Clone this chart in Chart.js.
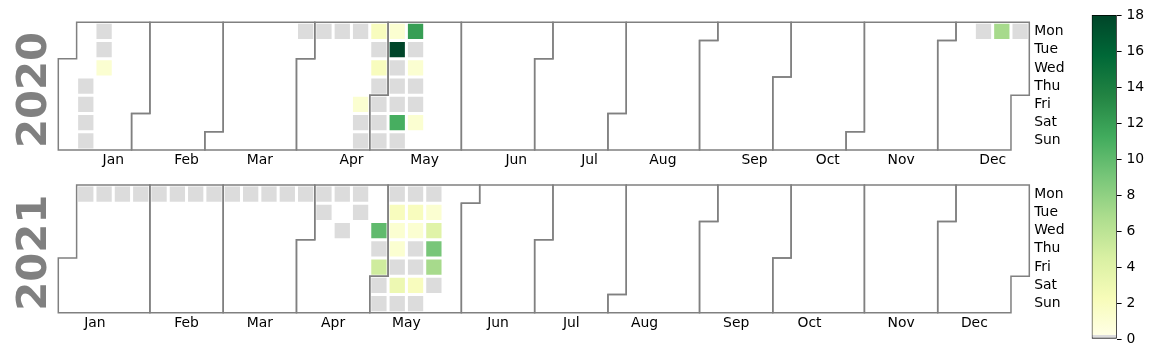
<!DOCTYPE html>
<html>
<head>
<meta charset="utf-8">
<script src="https://cdn.jsdelivr.net/npm/chart.js@4.4.1/dist/chart.umd.min.js"></script>
<style>
  html, body { margin: 0; padding: 0; background: #ffffff; }
  #wrap { position: relative; width: 1153px; height: 357px; overflow: hidden; background: #ffffff; }
  canvas { position: absolute; }
</style>
</head>
<body>
<div id="wrap">
  <canvas id="c2020" width="1085" height="175" style="left:0px;top:0px"></canvas>
  <canvas id="c2021" width="1085" height="175" style="left:0px;top:163px"></canvas>
  <canvas id="cbar" width="68" height="357" style="left:1085px;top:0px"></canvas>
</div>
<script>
// ---------------- data ----------------
const dayLabels = ['Mon', 'Tue', 'Wed', 'Thu', 'Fri', 'Sat', 'Sun'];
const monthLabels = ['Jan', 'Feb', 'Mar', 'Apr', 'May', 'Jun', 'Jul', 'Aug', 'Sep', 'Oct', 'Nov', 'Dec'];
const monthTicks2020 = [3, 7, 11, 16, 20, 25, 29, 33, 38, 42, 46, 51];
const monthTicks2021 = [2, 7, 11, 15, 19, 24, 28, 32, 37, 41, 46, 50];

// 2020 cells: week column, weekday, value
const week2020 = [1, 1, 1, 1,
                  2, 2, 2,
                  13, 14, 15,
                  16, 16, 16, 16,
                  17, 17, 17, 17, 17, 17, 17,
                  18, 18, 18, 18, 18, 18, 18,
                  19, 19, 19, 19, 19, 19,
                  50, 51, 52];
const day2020 = ['Thu', 'Fri', 'Sat', 'Sun',
                 'Mon', 'Tue', 'Wed',
                 'Mon', 'Mon', 'Mon',
                 'Mon', 'Fri', 'Sat', 'Sun',
                 'Mon', 'Tue', 'Wed', 'Thu', 'Fri', 'Sat', 'Sun',
                 'Mon', 'Tue', 'Wed', 'Thu', 'Fri', 'Sat', 'Sun',
                 'Mon', 'Tue', 'Wed', 'Thu', 'Fri', 'Sat',
                 'Mon', 'Mon', 'Mon'];
const value2020 = [0, 0, 0, 0,
                   0, 0, 1,
                   0, 0, 0,
                   0, 1, 0, 0,
                   2, 0, 2, 0, 0, 0, 0,
                   1, 18, 0, 0, 0, 11, 0,
                   12, 0, 1, 0, 0, 1,
                   0, 7, 0];

// 2021 cells: week column, weekday, value
const week2021 = [1, 2, 3, 4, 5, 6, 7, 8, 9, 10, 11, 12, 13, 14, 15, 16,
                  14, 15, 16,
                  17, 17, 17, 17, 17,
                  18, 18, 18, 18, 18, 18, 18,
                  19, 19, 19, 19, 19, 19, 19,
                  20, 20, 20, 20, 20, 20];
const day2021 = ['Mon', 'Mon', 'Mon', 'Mon', 'Mon', 'Mon', 'Mon', 'Mon', 'Mon', 'Mon', 'Mon', 'Mon', 'Mon', 'Mon', 'Mon', 'Mon',
                 'Tue', 'Wed', 'Tue',
                 'Wed', 'Thu', 'Fri', 'Sat', 'Sun',
                 'Mon', 'Tue', 'Wed', 'Thu', 'Fri', 'Sat', 'Sun',
                 'Mon', 'Tue', 'Wed', 'Thu', 'Fri', 'Sat', 'Sun',
                 'Mon', 'Tue', 'Wed', 'Thu', 'Fri', 'Sat'];
const value2021 = [0, 0, 0, 0, 0, 0, 0, 0, 0, 0, 0, 0, 0, 0, 0, 0,
                   0, 0, 0,
                   10, 0, 5, 0, 0,
                   0, 2, 1, 1, 0, 3, 0,
                   0, 2, 1, 0, 0, 2, 0,
                   0, 1, 4, 9, 7, 0];

const colorbarTicks = [0, 2, 4, 6, 8, 10, 12, 14, 16, 18];
const vmin = 0, vmax = 18;

// ---------------- styling helpers ----------------
const ylgn = ['#ffffe5', '#f7fcb9', '#d9f0a3', '#addd8e', '#78c679', '#41ab5d', '#238443', '#006837', '#004529'];
const zeroColor = '#dcdcdc';
const FONT = "'DejaVu Sans', 'Liberation Sans', sans-serif";
Chart.defaults.font.family = FONT;
Chart.defaults.font.size = 13.9;
Chart.defaults.color = '#000000';

function hexToRgb(h) {
  return [parseInt(h.slice(1, 3), 16), parseInt(h.slice(3, 5), 16), parseInt(h.slice(5, 7), 16)];
}
function colorFor(v) {
  if (v <= 0) return zeroColor;
  const t = Math.min(1, (v - vmin) / (vmax - vmin)) * (ylgn.length - 1);
  const i = Math.min(ylgn.length - 2, Math.floor(t));
  const f = t - i;
  const a = hexToRgb(ylgn[i]), b = hexToRgb(ylgn[i + 1]);
  const c = a.map((x, k) => Math.round(x + (b[k] - x) * f));
  return 'rgb(' + c.join(',') + ')';
}

// month outline plugin (calendar boundaries through the chart scales)
const outlinePlugin = {
  id: 'monthOutline',
  afterDatasetsDraw(chart, args, opts) {
    const year = opts.year;
    const { ctx } = chart;
    const xs = chart.scales.x, ys = chart.scales.y;
    const jan1 = Date.UTC(year, 0, 1);
    const w0 = (new Date(jan1).getUTCDay() + 6) % 7;
    const pos = (m, d) => {
      const n = Math.round((Date.UTC(year, m, d) - jan1) / 86400000) + w0;
      return [Math.floor(n / 7), n % 7];
    };
    ctx.save();
    ctx.strokeStyle = opts.color;
    ctx.lineWidth = opts.width;
    ctx.lineJoin = 'miter';
    for (let m = 0; m < 12; m++) {
      const [c0, r0] = pos(m, 1);
      const lastDay = new Date(Date.UTC(year, m + 1, 0)).getUTCDate();
      const [c1, r1] = pos(m, lastDay);
      const pts = [];
      pts.push([r0 > 0 ? c0 + 1 : c0, 0]);
      pts.push([c1 + 1, 0]);
      if (r1 < 6) { pts.push([c1 + 1, r1 + 1]); pts.push([c1, r1 + 1]); pts.push([c1, 7]); }
      else { pts.push([c1 + 1, 7]); }
      pts.push([c0, 7]);
      if (r0 > 0) { pts.push([c0, r0]); pts.push([c0 + 1, r0]); }
      ctx.beginPath();
      pts.forEach(([px, py], i) => {
        const X = xs.getPixelForValue(px), Y = ys.getPixelForValue(py);
        if (i === 0) ctx.moveTo(X, Y); else ctx.lineTo(X, Y);
      });
      ctx.closePath();
      ctx.stroke();
    }
    ctx.restore();
  }
};

// rotated year label plugin
const yearLabelPlugin = {
  id: 'yearLabel',
  afterDraw(chart, args, opts) {
    const { ctx, chartArea } = chart;
    ctx.save();
    ctx.font = 'bold ' + opts.size + 'px ' + FONT;
    ctx.fillStyle = opts.color;
    ctx.translate(opts.x, (chartArea.top + chartArea.bottom) / 2 + opts.dy);
    ctx.rotate(-Math.PI / 2);
    ctx.textAlign = 'center';
    ctx.textBaseline = 'alphabetic';
    ctx.fillText(opts.text, 0, 0);
    ctx.restore();
  }
};

function makeYearChart(canvasId, year, weeks, days, values, monthTicks, padTop, xAxisHeight) {
  const cells = weeks.map((w, i) => ({ x: w + 0.5, y: dayLabels.indexOf(days[i]) + 0.5, v: values[i] }));
  return new Chart(document.getElementById(canvasId), {
    type: 'scatter',
    data: {
      datasets: [{
        data: cells,
        showLine: false,
        pointStyle: 'rect',
        pointRadius: 10.82,
        pointHoverRadius: 10.82,
        pointBorderWidth: 0,
        borderWidth: 0,
        pointBackgroundColor: (c) => colorFor(c.raw ? c.raw.v : 0),
        backgroundColor: (c) => colorFor(c.raw ? c.raw.v : 0)
      }]
    },
    plugins: [outlinePlugin, yearLabelPlugin],
    options: {
      responsive: false,
      animation: false,
      events: [],
      layout: { padding: { left: 58.3, top: padTop, right: 0, bottom: 0 } },
      plugins: {
        legend: { display: false },
        tooltip: { enabled: false },
        monthOutline: { year: year, color: '#808080', width: 1.5 },
        yearLabel: { text: String(year), size: 41.7, color: '#808080', x: 46, dy: 3.85 }
      },
      scales: {
        x: {
          type: 'linear', min: 0, max: 53,
          grid: { display: false, drawTicks: false },
          border: { display: false },
          afterBuildTicks: (s) => { s.ticks = monthTicks.map(v => ({ value: v })); },
          afterFit: (s) => { s.height = xAxisHeight; },
          ticks: {
            autoSkip: false, maxRotation: 0, padding: 2,
            callback: (v, i) => monthLabels[i]
          }
        },
        y: {
          type: 'linear', position: 'right', min: 0, max: 7, reverse: true,
          grid: { display: false, drawTicks: false },
          border: { display: false },
          afterBuildTicks: (s) => { s.ticks = dayLabels.map((d, i) => ({ value: i + 0.5 })); },
          afterFit: (s) => { s.width = 1085 - 1029.3; },
          ticks: {
            autoSkip: false, padding: 4.9,
            callback: (v, i) => dayLabels[i]
          }
        }
      }
    }
  });
}

makeYearChart('c2020', 2020, week2020, day2020, value2020, monthTicks2020, 22.3, 25);
makeYearChart('c2021', 2021, week2021, day2021, value2021, monthTicks2021, 22, 25.3);

// ---------------- colorbar ----------------
new Chart(document.getElementById('cbar'), {
  type: 'bar',
  data: {
    labels: [''],
    datasets: [{
      data: [[vmin, vmax]],
      borderColor: '#000000',
      borderWidth: 1,
      borderSkipped: false,
      barPercentage: 1,
      categoryPercentage: 1,
      backgroundColor: (c) => {
        const ch = c.chart;
        if (!ch.chartArea) return ylgn[0];
        const ys = ch.scales.y;
        const y0 = ys.getPixelForValue(vmin), y1 = ys.getPixelForValue(vmax);
        const g = ch.ctx.createLinearGradient(0, y0, 0, y1);
        g.addColorStop(0, zeroColor);
        g.addColorStop(0.012, zeroColor);
        g.addColorStop(0.0125, ylgn[0]);
        for (let i = 1; i < ylgn.length; i++) g.addColorStop(i / (ylgn.length - 1), ylgn[i]);
        return g;
      }
    }]
  },
  options: {
    responsive: false,
    animation: false,
    events: [],
    layout: { padding: { left: 6.7, top: 15, right: 0, bottom: 18 } },
    plugins: { legend: { display: false }, tooltip: { enabled: false } },
    scales: {
      x: { display: false },
      y: {
        position: 'right', min: vmin, max: vmax,
        afterBuildTicks: (s) => { s.ticks = colorbarTicks.map(v => ({ value: v })); },
        afterFit: (s) => { s.width = 68 - 31.7; },
        ticks: { padding: 4.9, autoSkip: false },
        grid: { drawOnChartArea: false, drawTicks: true, tickLength: 4.9, color: '#000000', tickColor: '#000000', lineWidth: 1 },
        border: { display: false }
      }
    }
  }
});
</script>
</body>
</html>
